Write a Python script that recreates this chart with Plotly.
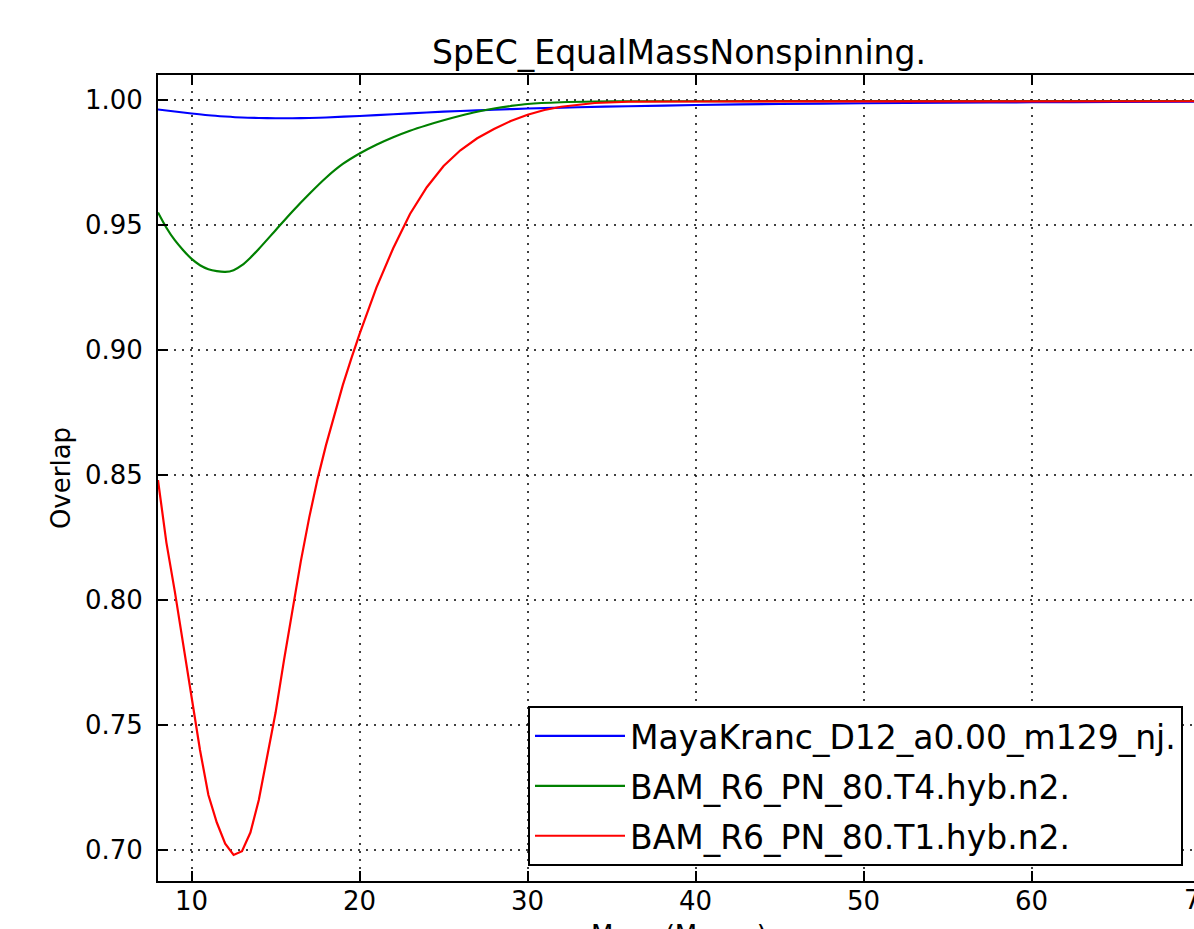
import plotly.graph_objects as go

# ---- data ----
title_text = "SpEC_EqualMassNonspinning."
x_label = "Mass (M_sun)"
y_label = "Overlap"

names = ["MayaKranc_D12_a0.00_m129_nj.", "BAM_R6_PN_80.T4.hyb.n2.", "BAM_R6_PN_80.T1.hyb.n2."]
colors = ["#0000ff", "#008000", "#ff0000"]

maya_x = [8, 9, 10, 11, 12, 13, 14, 15, 16, 17, 18, 20, 22, 24, 26, 28, 30, 33, 36, 40, 45, 50, 55, 60, 65, 70]
maya_y = [0.9963, 0.9955, 0.9947, 0.9940, 0.9935, 0.9931, 0.9929, 0.9928, 0.9928, 0.9929, 0.9931,
          0.9937, 0.9944, 0.9951, 0.9957, 0.9962, 0.9967, 0.9972, 0.9976, 0.9981, 0.9985, 0.9988,
          0.9990, 0.9992, 0.9993, 0.9994]

t4_x = [8, 8.5, 9, 9.5, 10, 10.5, 11, 11.5, 12, 12.5, 13, 13.5, 14, 15, 16, 17, 18, 19, 20, 21, 22,
        23, 24, 25, 26, 27, 28, 29, 30, 32, 34, 36, 40, 50, 60, 70]
t4_y = [0.9551, 0.9490, 0.9440, 0.9400, 0.9365, 0.9340, 0.9324, 0.9316, 0.9313, 0.9320, 0.9340,
        0.9370, 0.9405, 0.9480, 0.9555, 0.9625, 0.9690, 0.9745, 0.9787, 0.9822, 0.9852, 0.9878,
        0.9900, 0.9920, 0.9938, 0.9954, 0.9967, 0.9977, 0.9985, 0.9992, 0.9995, 0.9996, 0.9996,
        0.9997, 0.9997, 0.9997]

t1_x = [8, 8.5, 9, 9.5, 10, 10.5, 11, 11.5, 12, 12.5, 13, 13.5, 14, 14.5, 15, 15.5, 16, 16.5, 17,
        17.5, 18, 18.5, 19, 19.5, 20, 21, 22, 23, 24, 25, 26, 27, 28, 29, 30, 31, 32, 34, 36, 40,
        50, 60, 70]
t1_y = [0.848, 0.823, 0.8035, 0.782, 0.7597, 0.740, 0.722, 0.711, 0.7025, 0.698, 0.6995, 0.707,
        0.720, 0.737, 0.755, 0.776, 0.7965, 0.8155, 0.833, 0.8485, 0.862, 0.8745, 0.886, 0.8965,
        0.9065, 0.925, 0.9408, 0.9545, 0.9652, 0.9737, 0.9800, 0.9848, 0.9885, 0.9917, 0.9942,
        0.9961, 0.9974, 0.9989, 0.9994, 0.9995, 0.9996, 0.9996, 0.9996]

x_ticks = [10, 20, 30, 40, 50, 60]
y_ticks = [0.70, 0.75, 0.80, 0.85, 0.90, 0.95, 1.00]

W, H = 1194, 929
L, R, T, B = 158, 0, 75, 48
FONT = "DejaVu Sans"

fig = go.Figure()
series = [(maya_x, maya_y, "spline"), (t4_x, t4_y, "spline"), (t1_x, t1_y, "linear")]
for i, (xs, ys, shape) in enumerate(series):
    line = dict(color=colors[i], width=2.2, shape=shape)
    if shape == "spline":
        line["smoothing"] = 0.8
    fig.add_trace(go.Scatter(x=xs, y=ys, mode="lines", name=names[i], line=line,
                             legendgroup="g%d" % i))

x_max = 8 + (W - L) / 16.8
fig.update_layout(
    width=W, height=H,
    margin=dict(l=L, r=R, t=T, b=B, pad=0),
    paper_bgcolor="white", plot_bgcolor="white",
    font=dict(family=FONT, size=26, color="black"),
    title=dict(text=title_text, x=(L + (W - L + 6) / 2) / W, xanchor="center",
               y=1 - 52 / H, yanchor="middle", yref="container",
               font=dict(family=FONT, size=33, color="black")),
    showlegend=True,
    legend=dict(x=(1183 - L) / (W - L), xanchor="right", y=(881 - 866) / (881 - 75), yanchor="bottom",
                bgcolor="white", bordercolor="black", borderwidth=2,
                font=dict(family=FONT, size=33, color="black"),
                tracegroupgap=4, itemwidth=90, traceorder="grouped"),
    xaxis=dict(range=[8, x_max], tickvals=x_ticks, ticks="inside", ticklen=10, tickwidth=1.5,
               tickcolor="black", showline=True, linecolor="black", linewidth=2, mirror="ticks",
               showgrid=True, gridcolor="rgba(0,0,0,0.75)", gridwidth=1.5, griddash="2px,6px",
               zeroline=False, tickfont=dict(size=26), ticklabelstandoff=-4),
    yaxis=dict(range=[0.6876, 1.0101], tickvals=y_ticks, tickformat=".2f", ticks="inside",
               ticklen=10, tickwidth=1.5, tickcolor="black", showline=True, linecolor="black",
               linewidth=2, mirror=False, showgrid=True, gridcolor="rgba(0,0,0,0.75)", gridwidth=1.5,
               griddash="2px,6px", zeroline=False, tickfont=dict(size=26), ticklabelstandoff=8,
               title=dict(text=y_label, font=dict(size=26), standoff=7)),
)

# x-axis title (partially cut at the bottom edge, as in the reference)
fig.add_annotation(text=x_label, xref="paper", yref="paper", x=(W - L + 6) / 2 / (W - L),
                   y=-(918 - 881) / (881 - 75), xanchor="center", yanchor="top", showarrow=False,
                   font=dict(family=FONT, size=26, color="black"))
# partially visible "70" tick label at the right edge
fig.add_annotation(text="70", xref="paper", yref="paper", x=(1200 - L) / (W - L),
                   y=-(883 - 881) / (881 - 75), xanchor="center", yanchor="top", showarrow=False,
                   font=dict(family=FONT, size=26, color="black"))

fig.write_html("out.html")
